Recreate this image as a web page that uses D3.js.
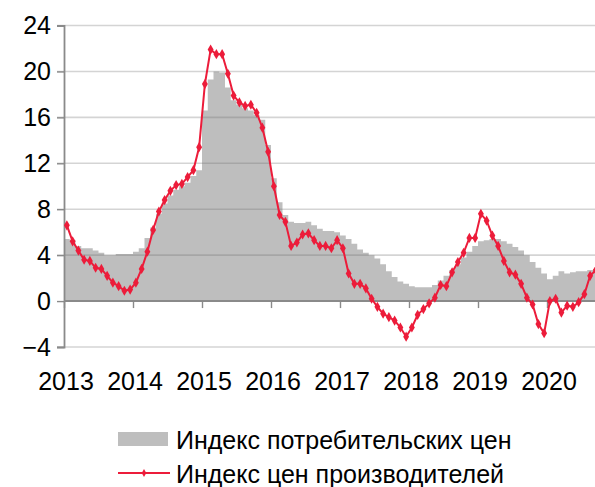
<!DOCTYPE html>
<html>
<head>
<meta charset="utf-8">
<script src="https://cdnjs.cloudflare.com/ajax/libs/d3/7.8.5/d3.min.js"></script>
<style>
  body { margin: 0; background: #fff; }
  svg text { font-family: "Liberation Sans", Arial, sans-serif; fill: #000; }
</style>
</head>
<body>
<svg width="595" height="487"></svg>
<script>
// monthly data, Jan 2013 .. Sep 2020
const years = ["2013", "2014", "2015", "2016", "2017", "2018", "2019", "2020"];
const yTicks = [-4, 0, 4, 8, 12, 16, 20, 24];

// Индекс потребительских цен (grey columns)
const cpi = [
  5.4, 5.3, 4.8, 4.6, 4.6, 4.4, 4.2, 4.0, 4.0, 4.1, 4.1, 4.1,
  4.3, 4.6, 5.5, 6.4, 7.6, 8.5, 9.2, 9.7, 10.0, 10.3, 10.9, 11.4,
  16.6, 19.3, 20.0, 19.9, 18.6, 17.5, 17.1, 16.8, 16.6, 16.2, 15.8, 13.6,
  10.7, 8.6, 7.5, 6.9, 6.8, 6.8, 6.9, 6.6, 6.3, 6.1, 6.1, 6.0,
  5.7, 5.4, 5.0, 4.5, 4.2, 4.0, 3.7, 3.2, 2.6, 2.1, 1.7, 1.5,
  1.3, 1.2, 1.2, 1.2, 1.4, 1.8, 2.2, 2.7, 3.2, 3.8, 4.3, 4.8,
  5.2, 5.3, 5.4, 5.4, 5.2, 5.0, 4.7, 4.4, 4.0, 3.4, 2.9, 2.4,
  1.9, 2.2, 2.6, 2.4, 2.5, 2.6, 2.6, 2.7, 2.8
];

// Индекс цен производителей (red line)
const ppi = [
  6.6, 5.2, 4.4, 3.6, 3.5, 2.9, 2.8, 2.2, 1.6, 1.3, 0.9, 1.0,
  1.6, 2.8, 4.3, 6.2, 7.8, 8.8, 9.6, 10.1, 10.2, 10.8, 11.4, 13.4,
  18.9, 21.9, 21.5, 21.5, 19.8, 17.9, 17.3, 17.0, 17.1, 16.4, 15.1, 13.0,
  10.0, 7.5, 6.9, 4.8, 5.1, 5.8, 5.9, 5.3, 4.8, 4.8, 4.6, 5.3,
  4.6, 2.4, 1.5, 1.5, 1.1, 0.2, -0.5, -1.1, -1.4, -1.7, -2.3, -3.1,
  -2.3, -1.2, -0.7, -0.2, 0.3, 1.4, 1.3, 2.5, 3.4, 4.2, 5.5, 5.5,
  7.6, 7.0, 5.7, 4.8, 3.5, 2.5, 2.3, 1.5, 0.3, -0.3, -2.0, -2.8,
  0.0, 0.2, -1.0, -0.4, -0.5, -0.1, 0.6, 2.2, 2.7
];

const seriesNames = ["Индекс потребительских цен", "Индекс цен производителей"];

const grey = "#bebebe";
const red = "#ec1c3a";
const fontSize = 25;

const svg = d3.select("svg");
const plotLeft = 64, plotTop = 25.5, plotBottom = 347;
const monthW = 5.75;

const x = d3.scaleLinear().domain([0, cpi.length]).range([plotLeft, plotLeft + monthW * cpi.length]);
const y = d3.scaleLinear().domain([-4, 24]).range([plotBottom, plotTop]);

// grey columns as a stepped area
const cpiPts = cpi.map((v, i) => [i, v]);
cpiPts.push([cpi.length, cpi[cpi.length - 1]]);
const area = d3.area()
  .curve(d3.curveStepAfter)
  .x(d => x(d[0]))
  .y0(y(0))
  .y1(d => y(d[1]));
svg.append("path").datum(cpiPts).attr("d", area).attr("fill", grey);

// grid (drawn over the columns, semi transparent)
svg.append("g").selectAll("line")
  .data(yTicks.filter(t => t !== 0))
  .join("line")
  .attr("x1", plotLeft - 7).attr("x2", 595)
  .attr("y1", d => y(d)).attr("y2", d => y(d))
  .attr("stroke", "#707070").attr("stroke-opacity", 0.3).attr("stroke-width", 1.6);

// y axis
const yAxis = svg.append("g").attr("transform", `translate(${plotLeft},0)`)
  .call(d3.axisLeft(y).tickValues(yTicks).tickSize(7).tickFormat(d3.format("d")));
yAxis.select(".domain").attr("stroke", "#8a8a8a").attr("stroke-width", 1.8);
yAxis.selectAll(".tick line").attr("stroke", "#8a8a8a").attr("stroke-width", 1.4);
yAxis.selectAll(".tick text").attr("x", -13).attr("font-size", fontSize);

// x axis at zero
const yearTicks = years.map((d, i) => i * 12);
const xAxis = svg.append("g").attr("transform", `translate(0,${y(0)})`)
  .call(d3.axisBottom(x).tickValues(yearTicks).tickSize(7).tickFormat(""));
xAxis.select(".domain").attr("stroke", "#8a8a8a").attr("stroke-width", 2)
  .attr("d", `M${plotLeft},0H595`);
xAxis.selectAll(".tick line").attr("stroke", "#8a8a8a").attr("stroke-width", 1.4);

// year labels below the plot
svg.append("g").selectAll("text")
  .data(years)
  .join("text")
  .attr("x", (d, i) => x(yearTicks[i]) + 2)
  .attr("y", 390)
  .attr("text-anchor", "middle")
  .attr("font-size", fontSize)
  .text(d => d);

// red line with markers
const line = d3.line().x((d, i) => x(i + 0.5)).y(d => y(d));
svg.append("path").datum(ppi).attr("d", line)
  .attr("fill", "none").attr("stroke", red).attr("stroke-width", 2);
const diamond = d3.symbol().type(d3.symbolDiamond).size(30);
svg.append("g").selectAll("path")
  .data(ppi)
  .join("path")
  .attr("d", diamond)
  .attr("transform", (d, i) => `translate(${x(i + 0.5)},${y(d)})`)
  .attr("fill", red);

// legend
const lg = svg.append("g");
lg.append("rect").attr("x", 118).attr("y", 432).attr("width", 50).attr("height", 14).attr("fill", grey);
lg.append("text").attr("x", 176).attr("y", 440).attr("dy", "0.35em").attr("font-size", fontSize).text(seriesNames[0]);
lg.append("line").attr("x1", 118).attr("x2", 170).attr("y1", 473).attr("y2", 473)
  .attr("stroke", red).attr("stroke-width", 2);
lg.append("path").attr("d", d3.symbol().type(d3.symbolDiamond).size(18)).attr("transform", "translate(144,473)").attr("fill", red);
lg.append("text").attr("x", 176).attr("y", 474).attr("dy", "0.35em").attr("font-size", fontSize).text(seriesNames[1]);
</script>
</body>
</html>
